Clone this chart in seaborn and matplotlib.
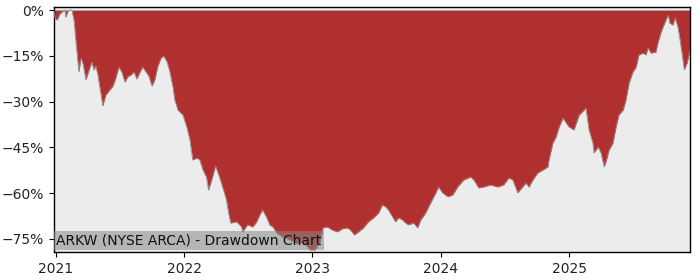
import matplotlib
matplotlib.use("Agg")
import matplotlib.pyplot as plt
import matplotlib.dates as mdates
from matplotlib.ticker import FuncFormatter, FixedLocator
import numpy as np
import pandas as pd
import seaborn as sns

title_text = "ARKW (NYSE ARCA) - Drawdown Chart"

dates = [
    "2020-12-26", "2020-12-29", "2021-01-04", "2021-01-12", "2021-01-21", "2021-01-26",
    "2021-01-29", "2021-02-04", "2021-02-10", "2021-02-15", "2021-02-21", "2021-02-27",
    "2021-03-07", "2021-03-13", "2021-03-19", "2021-03-27", "2021-04-05", "2021-04-13",
    "2021-04-19", "2021-04-24", "2021-04-30", "2021-05-06", "2021-05-14", "2021-05-23",
    "2021-06-03", "2021-06-12", "2021-06-20", "2021-06-29", "2021-07-07", "2021-07-16",
    "2021-07-24", "2021-08-02", "2021-08-11", "2021-08-19", "2021-08-28", "2021-09-05",
    "2021-09-14", "2021-09-22", "2021-10-01", "2021-10-09", "2021-10-18", "2021-10-27",
    "2021-11-04", "2021-11-13", "2021-11-21", "2021-11-30", "2021-12-05", "2021-12-14",
    "2021-12-22", "2021-12-28", "2022-01-08", "2022-01-17", "2022-01-25", "2022-02-06",
    "2022-02-14", "2022-02-23", "2022-03-05", "2022-03-11", "2022-03-20", "2022-03-31",
    "2022-04-11", "2022-04-20", "2022-05-01", "2022-05-07", "2022-05-13", "2022-05-30",
    "2022-06-13", "2022-06-16", "2022-06-30", "2022-07-15", "2022-07-26", "2022-08-04",
    "2022-08-12", "2022-08-24", "2022-09-01", "2022-09-10", "2022-09-21", "2022-10-06",
    "2022-10-28", "2022-11-18", "2022-12-05", "2022-12-25", "2023-01-08", "2023-01-23",
    "2023-01-31", "2023-02-12", "2023-02-26", "2023-03-13", "2023-03-27", "2023-04-10",
    "2023-04-19", "2023-04-30", "2023-05-12", "2023-05-26", "2023-06-09", "2023-06-24",
    "2023-07-08", "2023-07-19", "2023-07-28", "2023-08-05", "2023-08-17", "2023-08-25",
    "2023-09-03", "2023-09-14", "2023-09-23", "2023-10-01", "2023-10-16", "2023-10-27",
    "2023-11-05", "2023-11-19", "2023-12-03", "2023-12-18", "2023-12-26", "2024-01-06",
    "2024-01-21", "2024-02-04", "2024-02-18", "2024-03-06", "2024-03-26", "2024-04-04",
    "2024-04-18", "2024-05-02", "2024-05-22", "2024-06-11", "2024-06-28", "2024-07-13",
    "2024-07-24", "2024-08-07", "2024-08-21", "2024-08-30", "2024-09-08", "2024-09-19",
    "2024-10-03", "2024-10-18", "2024-11-01", "2024-11-04", "2024-11-15", "2024-11-24",
    "2024-12-03", "2024-12-14", "2024-12-23", "2024-12-31", "2025-01-14", "2025-01-29",
    "2025-02-12", "2025-02-17", "2025-02-26", "2025-03-09", "2025-03-12", "2025-03-24",
    "2025-04-01", "2025-04-10", "2025-04-15", "2025-04-24", "2025-05-05", "2025-05-14",
    "2025-05-22", "2025-06-03", "2025-06-11", "2025-06-20", "2025-07-01", "2025-07-10",
    "2025-07-18", "2025-07-30", "2025-08-07", "2025-08-13", "2025-08-21", "2025-09-04",
    "2025-09-10", "2025-09-19", "2025-09-27", "2025-10-09", "2025-10-14", "2025-10-23",
    "2025-10-29", "2025-11-06", "2025-11-12", "2025-11-21", "2025-11-24", "2025-12-02",
    "2025-12-11",
]

drawdown_pct = [
    0.0, -2.6, -3.3, -1.3, -0.3, 0.0,
    -2.3, -0.3, 0.0, 0.0, -3.3, -10.8,
    -20.3, -15.7, -17.7, -22.9, -19.7, -17.0,
    -19.7, -18.3, -21.3, -25.5, -31.4, -27.8,
    -26.2, -24.9, -22.3, -18.7, -20.3, -23.6,
    -21.9, -21.3, -20.3, -22.6, -20.3, -18.7,
    -20.3, -21.6, -24.9, -22.9, -18.3, -15.7,
    -15.1, -17.0, -20.3, -25.5, -29.5, -32.8,
    -33.7, -34.4, -38.3, -42.6, -49.1, -48.5,
    -49.1, -52.4, -54.7, -59.0, -55.7, -51.1,
    -54.7, -58.0, -62.2, -66.5, -69.8, -69.4,
    -71.1, -72.7, -70.4, -71.1, -69.4, -67.1,
    -65.5, -68.1, -70.4, -71.1, -73.0, -74.3,
    -75.3, -76.6, -76.0, -78.6, -78.6, -76.0,
    -71.4, -71.1, -72.1, -72.7, -71.7, -71.4,
    -72.1, -73.7, -72.7, -71.4, -69.4, -68.1,
    -66.5, -63.9, -64.5, -65.5, -67.8, -69.4,
    -68.1, -68.8, -69.8, -70.4, -69.8, -71.4,
    -68.8, -66.5, -63.2, -59.9, -58.0, -59.9,
    -61.2, -60.6, -58.0, -55.7, -54.7, -55.7,
    -58.3, -58.0, -57.3, -58.0, -57.3, -55.0,
    -55.7, -59.9, -58.0, -56.7, -58.0, -55.7,
    -53.4, -52.4, -51.4, -49.1, -43.6, -41.6,
    -38.3, -35.4, -37.0, -38.3, -39.3, -34.4,
    -32.8, -32.1, -39.3, -43.6, -46.8, -44.9,
    -46.8, -51.4, -49.8, -45.9, -43.6, -38.3,
    -34.4, -32.8, -29.5, -23.9, -20.3, -18.7,
    -14.7, -14.1, -14.7, -12.4, -14.1, -13.8,
    -10.8, -7.2, -4.9, -1.6, -4.3, -4.9,
    -2.6, -5.6, -9.8, -17.0, -19.6, -17.4,
    -13.1,
]

y_ticks = [0, -15, -30, -45, -60, -75]
x_tick_years = ["2021", "2022", "2023", "2024", "2025"]

df = pd.DataFrame({"date": pd.to_datetime(dates), "drawdown": drawdown_pct})

sns.set_style("white")
plt.rcParams["font.family"] = ["DejaVu Sans"]

fig = plt.figure(figsize=(7, 2.8), dpi=100)
ax = fig.add_axes([0.077, 0.10, 0.909, 0.875])
ax.set_facecolor("#ececec")

ax.fill_between(df["date"], 0, df["drawdown"], color="#b03030", linewidth=0, zorder=2)
sns.lineplot(data=df, x="date", y="drawdown", ax=ax, color="#8a8a8a",
             linewidth=0.6, zorder=3)

ax.set_xlim(df["date"].min(), df["date"].max())
ax.set_ylim(-79.3, 1.0)

ax.yaxis.set_major_locator(FixedLocator(y_ticks))
ax.yaxis.set_major_formatter(FuncFormatter(
    lambda v, p: ("0%" if v == 0 else f"\u2212{abs(int(round(v)))}%")))
ax.xaxis.set_major_locator(FixedLocator([mdates.date2num(pd.Timestamp(y + "-01-01"))
                                         for y in x_tick_years]))
ax.xaxis.set_major_formatter(mdates.DateFormatter("%Y"))

ax.tick_params(axis="both", which="major", labelsize=10, length=3.5, width=0.8,
               color="black", labelcolor="#222222", direction="out",
               bottom=True, left=True)
ax.set_xlabel("")
ax.set_ylabel("")
ax.grid(False)
for s in ax.spines.values():
    s.set_visible(True)
    s.set_color("black")
    s.set_linewidth(1.0)

ax.text(0.004, 0.018, title_text, transform=ax.transAxes, fontsize=10,
        color="#111111", ha="left", va="bottom", zorder=5,
        bbox=dict(facecolor="#888888", alpha=0.55, edgecolor="none",
                  boxstyle="square,pad=0.18"))

fig.savefig("out.png", dpi=100)
